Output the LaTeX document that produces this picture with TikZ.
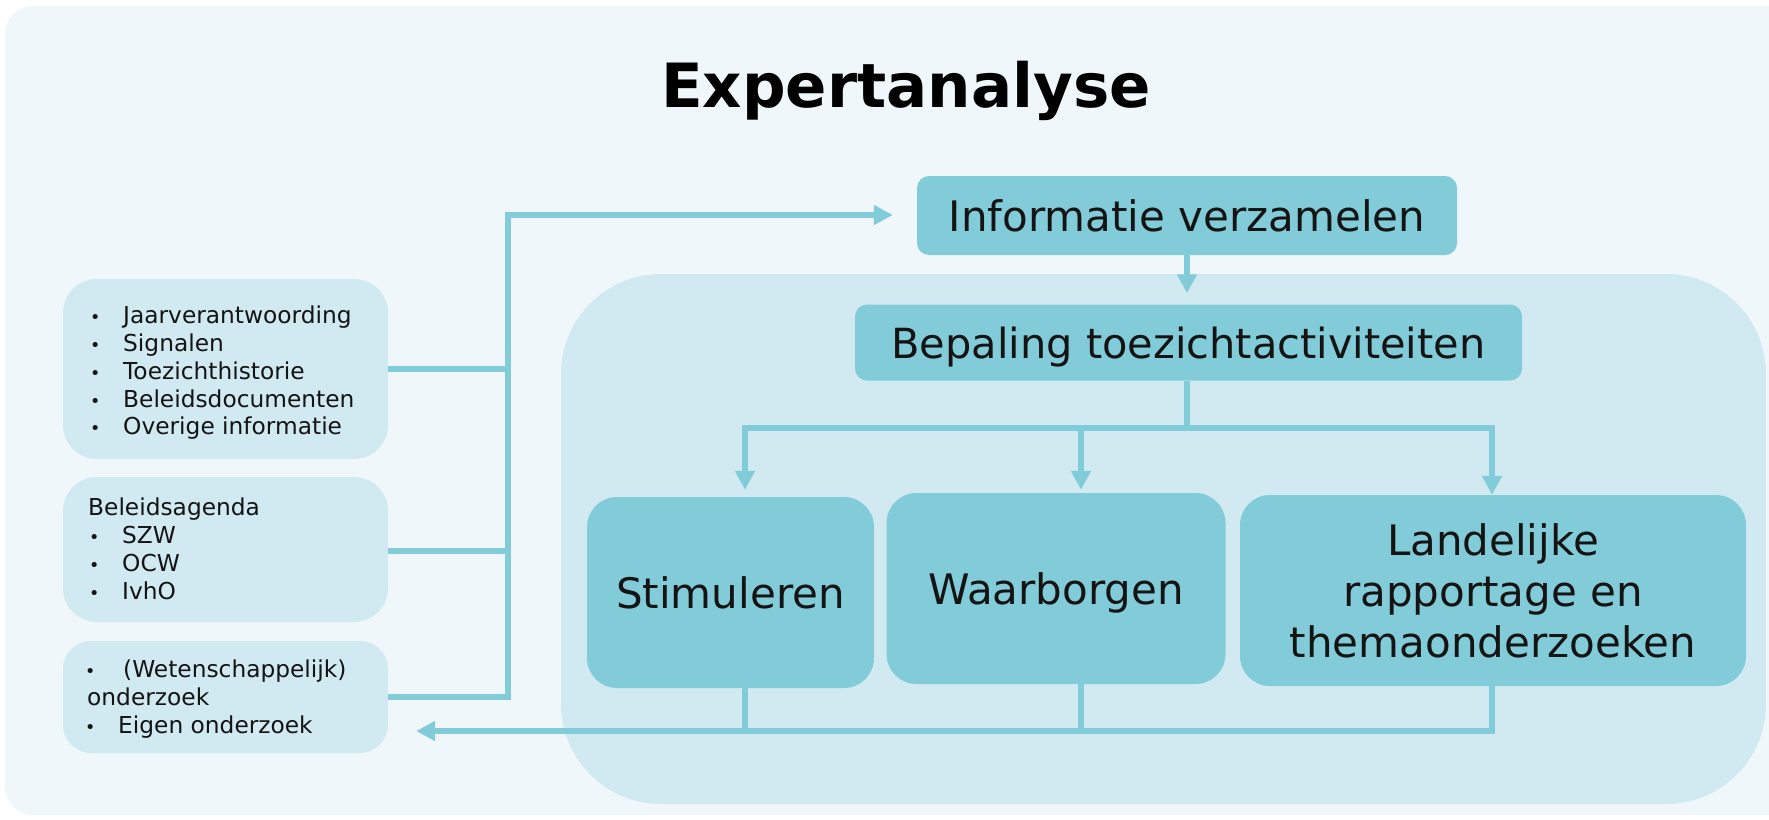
\documentclass[tikz,border=0pt]{standalone}
\usepackage{fontspec}
\setmainfont{DejaVu Sans}
\usetikzlibrary{arrows.meta}
\definecolor{bgout}{RGB}{240,247,250}
\definecolor{bglight}{RGB}{209,234,241}
\definecolor{boxdark}{RGB}{130,203,216}
\definecolor{txt}{RGB}{20,20,20}
\newcommand{\bul}{\makebox[0pt]{\scalebox{0.75}{•}}\hspace{28pt}}
\begin{document}
\begin{tikzpicture}[x=1pt,y=-1pt,
  lbox/.style={fill=bglight, rounded corners=34pt, minimum width=325pt, inner sep=0pt},
  dbox/.style={fill=boxdark, inner sep=0pt, text=txt},
  ltext/.style={anchor=north west, inner sep=0pt, align=left, text=txt,
     font=\fontsize{23.3}{27.7}\selectfont},
  btext/.style={font=\fontsize{42}{51}\selectfont, text depth=0pt},
  conn/.style={draw=boxdark, line width=6.5pt},
  arr/.style={conn, -{Triangle[length=19pt,width=19pt]}},
]
\useasboundingbox (0,0) rectangle (1769,819);
\fill[bgout, rounded corners=28pt] (5,6) rectangle (1800,815);

% title
\node[anchor=base, font=\fontsize{61}{70}\selectfont\bfseries] (title) at (906,107) {Expertanalyse};

% inner large box
\node[fill=bglight, rounded corners=100pt, minimum width=1205pt, minimum height=530pt, inner sep=0pt] (inner) at (1163.5,539) {};

% left boxes
\node[lbox, minimum height=180pt] (box1) at (225.5,369) {};
\node[lbox, minimum height=145pt] (box2) at (225.5,549.5) {};
\node[lbox, minimum height=112pt, rounded corners=28pt] (box3) at (225.5,697) {};

\node[ltext] (t1) at (95,306) {\bul Jaarverantwoording\\ \bul Signalen\\ \bul Toezichthistorie\\ \bul Beleidsdocumenten\\ \bul Overige informatie};
\node[ltext] (t2) at (88,498) {Beleidsagenda\\ \hspace{6pt}\bul SZW\\ \hspace{6pt}\bul OCW\\ \hspace{6pt}\bul IvhO};
\node[ltext] (t3) at (87,660) {\hspace{3pt}\bul\hspace{5pt}(Wetenschappelijk)\\ onderzoek\\ \hspace{3pt}\bul Eigen onderzoek};

% dark boxes
\node[dbox, rounded corners=12pt, minimum width=540pt, minimum height=79pt, font=\fontsize{42}{49}\selectfont, text depth=0pt] (info) at (1187,215.5) {Informatie verzamelen\hspace{16pt}};
\node[dbox, rounded corners=12pt, minimum width=667pt, minimum height=76pt, font=\fontsize{41.5}{49}\selectfont, text depth=0pt] (bep) at (1188.5,342.5) {Bepaling toezichtactiviteiten};
\node[dbox, btext, rounded corners=30pt, minimum width=287pt, minimum height=191pt] (stim) at (730.5,592.5) {Stimuleren};
\node[dbox, btext, rounded corners=30pt, minimum width=339pt, minimum height=191pt] (waar) at (1056,588.5) {Waarborgen};
\node[dbox, btext, rounded corners=30pt, minimum width=506pt, minimum height=191pt, align=center] (land) at (1493,590.5) {Landelijke\\rapportage en\\themaonderzoeken};

% connectors: inputs to Informatie verzamelen
\coordinate (j) at (508,215);
\draw[conn] (box1.east) -- (box1.east -| j);
\draw[conn] (box2.east |- 0,551) -- (j |- 0,551);
\draw[arr, shorten >=24pt] (box3.east) -| (j) -- (j -| info.west);

% Informatie -> Bepaling
\coordinate (v) at (1187,0);
\draw[arr, shorten >=11pt] (v |- info.south) -- (v |- bep.north);

% Bepaling -> three boxes
\coordinate (s) at (1187,428);
\coordinate (a1) at (745,428);
\coordinate (a2) at (1081,428);
\coordinate (a3) at (1492,428);
\draw[conn] (s |- bep.south) -- (s);
\draw[conn, line cap=rect] (a1) -- (a3);
\draw[arr, shorten >=7pt] (a1) -- (a1 |- stim.north);
\draw[arr, shorten >=3pt] (a2) -- (a2 |- waar.north);
\draw[arr] (a3) -- (a3 |- land.north);

% return to research box
\coordinate (r) at (1492,731);
\draw[conn] (a1 |- stim.south) -- (a1 |- r);
\draw[conn] (a2 |- waar.south) -- (a2 |- r);
\draw[arr, shorten >=28pt] (r |- land.south) -- (r) -- (box3.east |- r);
\end{tikzpicture}
\end{document}
